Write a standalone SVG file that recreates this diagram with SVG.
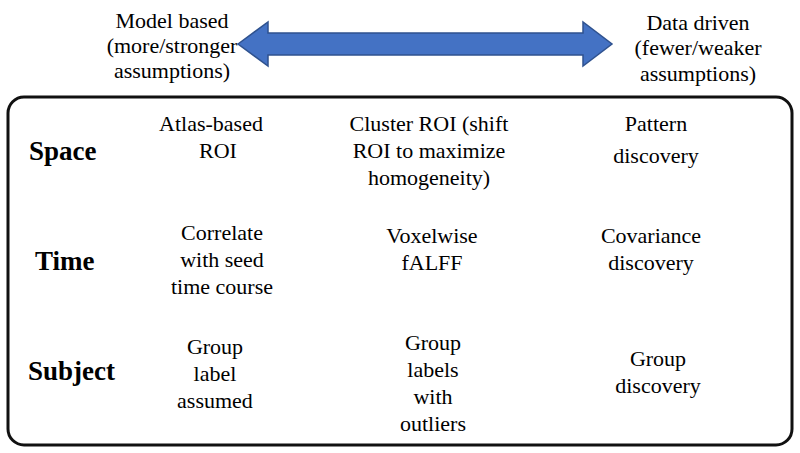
<svg xmlns="http://www.w3.org/2000/svg" width="800" height="453" viewBox="0 0 800 453">
<style>
.box{fill:none;stroke:#111;stroke-width:3}
.arr{fill:#4472C4;stroke:#2F528F;stroke-width:1.5}
</style>
<rect width="800" height="453" fill="#fff"/>
<g id="connectors">
<path id="arrow" class="arr" d="M238,44 L268,22 L268,33 L583,33 L583,22 L612,44 L583,66 L583,55 L268,55 L268,66 Z"/>
</g>
<g id="table">
<rect class="box" x="8" y="97" width="784" height="348" rx="16" ry="16"/>
</g>
<g id="model-based">
<text x="172" y="28" font-size="22" font-family="Liberation Serif" text-anchor="middle">Model based</text>
<text x="172" y="53" font-size="22" font-family="Liberation Serif" text-anchor="middle">(more/stronger</text>
<text x="172" y="78" font-size="22" font-family="Liberation Serif" text-anchor="middle">assumptions)</text>
</g>
<g id="data-driven">
<text x="698" y="30" font-size="22" font-family="Liberation Serif" text-anchor="middle">Data driven</text>
<text x="698" y="55" font-size="22" font-family="Liberation Serif" text-anchor="middle">(fewer/weaker</text>
<text x="698" y="81" font-size="22" font-family="Liberation Serif" text-anchor="middle">assumptions)</text>
</g>
<g id="space-atlas">
<text x="211" y="131" font-size="22" font-family="Liberation Serif" text-anchor="middle">Atlas-based</text>
<text x="218" y="158" font-size="22" font-family="Liberation Serif" text-anchor="middle">ROI</text>
</g>
<g id="space-cluster">
<text x="429" y="131" font-size="22" font-family="Liberation Serif" text-anchor="middle">Cluster ROI (shift</text>
<text x="429" y="158" font-size="22" font-family="Liberation Serif" text-anchor="middle">ROI to maximize</text>
<text x="429" y="185" font-size="22" font-family="Liberation Serif" text-anchor="middle">homogeneity)</text>
</g>
<g id="space-pattern">
<text x="656" y="131" font-size="22" font-family="Liberation Serif" text-anchor="middle">Pattern</text>
<text x="656" y="163" font-size="22" font-family="Liberation Serif" text-anchor="middle">discovery</text>
</g>
<g id="time-correlate">
<text x="222" y="240" font-size="22" font-family="Liberation Serif" text-anchor="middle">Correlate</text>
<text x="222" y="267" font-size="22" font-family="Liberation Serif" text-anchor="middle">with seed</text>
<text x="222" y="294" font-size="22" font-family="Liberation Serif" text-anchor="middle">time course</text>
</g>
<g id="time-voxelwise">
<text x="432" y="243" font-size="22" font-family="Liberation Serif" text-anchor="middle">Voxelwise</text>
<text x="432" y="270" font-size="22" font-family="Liberation Serif" text-anchor="middle">fALFF</text>
</g>
<g id="time-covariance">
<text x="651" y="243" font-size="22" font-family="Liberation Serif" text-anchor="middle">Covariance</text>
<text x="651" y="270" font-size="22" font-family="Liberation Serif" text-anchor="middle">discovery</text>
</g>
<g id="subject-group-label">
<text x="215" y="354" font-size="22" font-family="Liberation Serif" text-anchor="middle">Group</text>
<text x="215" y="381" font-size="22" font-family="Liberation Serif" text-anchor="middle">label</text>
<text x="215" y="408" font-size="22" font-family="Liberation Serif" text-anchor="middle">assumed</text>
</g>
<g id="subject-group-outliers">
<text x="433" y="350" font-size="22" font-family="Liberation Serif" text-anchor="middle">Group</text>
<text x="433" y="377" font-size="22" font-family="Liberation Serif" text-anchor="middle">labels</text>
<text x="433" y="404" font-size="22" font-family="Liberation Serif" text-anchor="middle">with</text>
<text x="433" y="431" font-size="22" font-family="Liberation Serif" text-anchor="middle">outliers</text>
</g>
<g id="subject-group-discovery">
<text x="658" y="366" font-size="22" font-family="Liberation Serif" text-anchor="middle">Group</text>
<text x="658" y="393" font-size="22" font-family="Liberation Serif" text-anchor="middle">discovery</text>
</g>
<g id="row-space"><text x="29" y="160" font-size="27" font-weight="bold" font-family="Liberation Serif">Space</text></g>
<g id="row-time"><text x="35" y="270" font-size="27" font-weight="bold" font-family="Liberation Serif">Time</text></g>
<g id="row-subject"><text x="28" y="380" font-size="27" font-weight="bold" font-family="Liberation Serif">Subject</text></g>
</svg>
